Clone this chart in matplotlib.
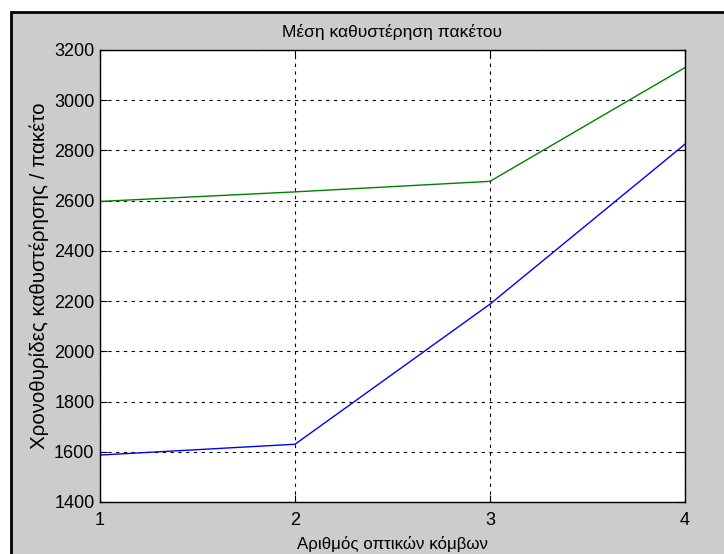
import matplotlib.pyplot as plt
from matplotlib.patches import Rectangle

plt.rcParams['font.family'] = ['Liberation Sans', 'DejaVu Sans']

nodes = [1, 2, 3, 4]
green_delay = [2597, 2635, 2677, 3130]
blue_delay = [1587, 1630, 2188, 2825]
yticks = [1400, 1600, 1800, 2000, 2200, 2400, 2600, 2800, 3000, 3200]

fig = plt.figure(figsize=(7.24, 5.54), dpi=100, facecolor='white')
# gray MATLAB-like figure panel with black frame on top/left
fig.patches.append(Rectangle((11 / 724, -0.05), 1.1, 1 - 12 / 554 + 0.05,
                             transform=fig.transFigure, facecolor='#cccccc',
                             edgecolor='black', linewidth=2, zorder=-10))

ax = fig.add_axes([100 / 724, 1 - 502 / 554, 585 / 724, 452 / 554])
ax.set_facecolor('white')
ax.plot(nodes, green_delay, color='#008000', linewidth=1)
ax.plot(nodes, blue_delay, color='#0000ff', linewidth=1)

ax.set_xlim(1, 4)
ax.set_ylim(1400, 3200)
ax.set_xticks(nodes)
ax.set_yticks(yticks)
ax.grid(True, color='black', linestyle=(0, (3, 4)), linewidth=0.8)
ax.tick_params(direction='in', length=5, top=True, right=True, labelsize=13)
ax.tick_params(axis='x', pad=7)
ax.tick_params(axis='y', pad=4)
for s in ax.spines.values():
    s.set_linewidth(1)

ax.set_title('Μέση καθυστέρηση πακέτου', fontsize=12.5, pad=9)
ax.set_xlabel('Αριθμός οπτικών κόμβων', fontsize=12.2, labelpad=5)
ax.set_ylabel('Χρονοθυρίδες καθυστέρησης / πακέτο', fontsize=14.8, labelpad=4)

fig.savefig('out.png', dpi=100, facecolor=fig.get_facecolor())
